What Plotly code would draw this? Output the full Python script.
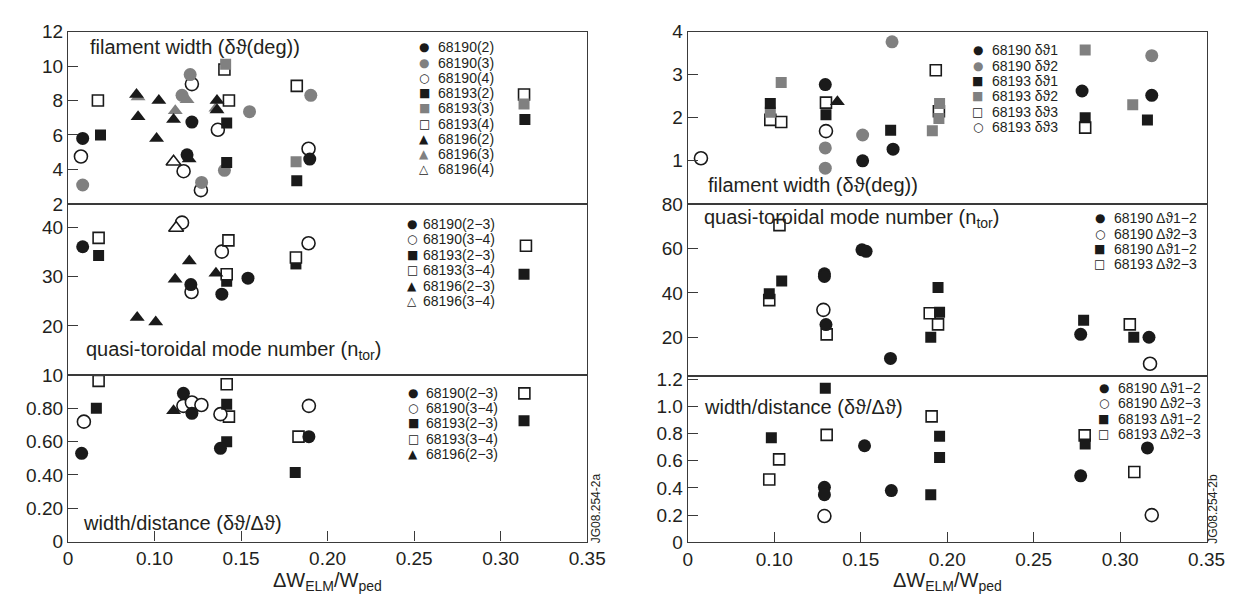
import plotly.graph_objects as go

W, H = 1247, 600

# ---------------- data ----------------
x_tickvals = [0.05, 0.10, 0.15, 0.20, 0.25, 0.30, 0.35]
x_ticktext = ["0", "0.10", "0.15", "0.20", "0.25", "0.30", "0.35"]

# Left top: filament width (deg)
L1_68190_2_x = [0.0585, 0.1188, 0.1216, 0.1897]
L1_68190_2_y = [5.8, 4.85, 6.75, 4.6]
L1_68190_3_x = [0.0585, 0.1159, 0.1206, 0.1272, 0.1404, 0.1549, 0.1903]
L1_68190_3_y = [3.1, 8.3, 9.5, 3.25, 3.95, 7.35, 8.3]
L1_68190_4_x = [0.0575, 0.1216, 0.1168, 0.1268, 0.1366, 0.1890]
L1_68190_4_y = [4.75, 8.95, 3.9, 2.8, 6.3, 5.2]
L1_68193_2_x = [0.0688, 0.1417, 0.1417, 0.1822, 0.3140]
L1_68193_2_y = [6.0, 6.7, 4.4, 3.35, 6.9]
L1_68193_3_x = [0.1411, 0.1818, 0.3135]
L1_68193_3_y = [10.1, 4.45, 7.8]
L1_68193_4_x = [0.0673, 0.1404, 0.1430, 0.1822, 0.3135]
L1_68193_4_y = [8.0, 9.8, 8.0, 8.85, 8.35]
L1_68196_2_x = [0.0896, 0.0905, 0.1025, 0.1012, 0.1110, 0.1200, 0.1361, 0.1361]
L1_68196_2_y = [8.35, 7.05, 8.0, 5.8, 6.9, 4.6, 8.0, 7.45]
L1_68196_3_x = [0.0905, 0.1120, 0.1188, 0.1355]
L1_68196_3_y = [8.2, 7.4, 8.05, 7.55]
L1_68196_4_x = [0.1110]
L1_68196_4_y = [4.45]

# Left middle: quasi-toroidal mode number
L2_68190_23_x = [0.0585, 0.1210, 0.1389, 0.1540]
L2_68190_23_y = [36.1, 28.4, 26.45, 29.7]
L2_68190_34_x = [0.1159, 0.1214, 0.1389, 0.1890]
L2_68190_34_y = [41.0, 26.9, 35.1, 36.8]
L2_68193_23_x = [0.0677, 0.1417, 0.1817, 0.3135]
L2_68193_23_y = [34.3, 29.1, 32.6, 30.5]
L2_68193_34_x = [0.0677, 0.1427, 0.1417, 0.1817, 0.3146]
L2_68193_34_y = [37.9, 37.4, 30.5, 33.9, 36.3]
L2_68196_23_x = [0.0900, 0.1007, 0.1119, 0.1201, 0.1355]
L2_68196_23_y = [21.7, 20.8, 29.5, 33.2, 30.7]
L2_68196_34_x = [0.1125]
L2_68196_34_y = [39.9]

# Left bottom: width/distance
L3_68190_23_x = [0.0579, 0.1167, 0.1216, 0.1381, 0.1892]
L3_68190_23_y = [0.53, 0.89, 0.77, 0.56, 0.63]
L3_68190_34_x = [0.0592, 0.1167, 0.1216, 0.1271, 0.1381, 0.1892]
L3_68190_34_y = [0.72, 0.815, 0.835, 0.82, 0.765, 0.815]
L3_68193_23_x = [0.0664, 0.1417, 0.1417, 0.1813, 0.3135]
L3_68193_23_y = [0.80, 0.825, 0.60, 0.415, 0.725]
L3_68193_34_x = [0.0677, 0.1417, 0.1430, 0.1832, 0.3137]
L3_68193_34_y = [0.965, 0.945, 0.75, 0.63, 0.89]
L3_68196_23_x = [0.1110]
L3_68196_23_y = [0.785]

# Right top: filament width (deg)
R1_68190_d1_x = [0.1295, 0.1511, 0.1687, 0.2780, 0.3183]
R1_68190_d1_y = [2.77, 1.0, 1.27, 2.62, 2.52]
R1_68190_d2_x = [0.1295, 0.1295, 0.1511, 0.1681, 0.3183]
R1_68190_d2_y = [1.3, 0.83, 1.6, 3.76, 3.44]
R1_68193_d1_x = [0.0977, 0.1299, 0.1673, 0.2798, 0.3158]
R1_68193_d1_y = [2.33, 2.07, 1.71, 2.0, 1.95]
R1_68193_d2_x = [0.0977, 0.1040, 0.1914, 0.1956, 0.1952, 0.2798, 0.3073]
R1_68193_d2_y = [2.13, 2.82, 1.70, 2.33, 1.98, 3.57, 2.30]
R1_68193_d3s_x = [0.0977, 0.1040, 0.1299, 0.1934, 0.1952, 0.2798]
R1_68193_d3s_y = [1.95, 1.9, 2.35, 3.1, 2.15, 1.77]
R1_68193_d3c_x = [0.0576, 0.1299]
R1_68193_d3c_y = [1.06, 1.69]
R1_extra_x = [0.1365]
R1_extra_y = [2.37]

# Right middle: quasi-toroidal mode number
R2_68190_12_x = [0.1290, 0.1290, 0.1299, 0.1507, 0.1531, 0.1672, 0.2772, 0.3167]
R2_68190_12_y = [48.6, 47.4, 25.8, 59.4, 58.7, 10.6, 21.4, 20.1]
R2_68190_23_x = [0.1284, 0.3173]
R2_68190_23_y = [32.4, 8.2]
R2_68193_12_x = [0.0971, 0.1043, 0.1947, 0.1956, 0.1905, 0.2789, 0.3079]
R2_68193_12_y = [39.6, 45.4, 42.4, 31.3, 20.1, 27.7, 20.1]
R2_68193_23_x = [0.1030, 0.0971, 0.1303, 0.1899, 0.1947, 0.3056]
R2_68193_23_y = [70.5, 36.8, 21.4, 30.9, 25.9, 25.9]

# Right bottom: width/distance
R3_68190_12_x = [0.1522, 0.1290, 0.1290, 0.1677, 0.2772, 0.3158]
R3_68190_12_y = [0.71, 0.404, 0.35, 0.38, 0.489, 0.694]
R3_68190_23_x = [0.1290, 0.3183]
R3_68190_23_y = [0.193, 0.20]
R3_68193_12_x = [0.0983, 0.1295, 0.1956, 0.1956, 0.1905, 0.2798]
R3_68193_12_y = [0.768, 1.132, 0.78, 0.624, 0.35, 0.722]
R3_68193_23_x = [0.0971, 0.1028, 0.1303, 0.1910, 0.2795, 0.3082]
R3_68193_23_y = [0.462, 0.61, 0.79, 0.926, 0.786, 0.517]

# ---------------- style ----------------
BLACK = "#1a1a1a"
GREY = "#808080"
LINE = "#3a3a3a"
TXT = "#231f20"
FONT = "Liberation Sans, Arial, Helvetica, sans-serif"

def px(v):
    return v / W

def py(v):
    return 1 - v / H

def mk(kind, symbol, size):
    if kind == "black":
        return dict(symbol=symbol, size=size, color=BLACK, line=dict(width=0))
    if kind == "grey":
        return dict(symbol=symbol, size=size, color=GREY, line=dict(width=0))
    return dict(symbol=symbol, size=size, color="white", line=dict(width=1.6, color=BLACK))

fig = go.Figure()

def add(xs, ys, ax, kind, symbol, size):
    fig.add_trace(go.Scatter(x=xs, y=ys, mode="markers", xaxis="x" + ax, yaxis="y" + ax,
                             marker=mk(kind, symbol, size), showlegend=False, hoverinfo="x+y"))

CS, SS, TS = 13, 11, 13
# left top (axis 3)
add(L1_68190_4_x, L1_68190_4_y, "3", "open", "circle", CS)
add(L1_68190_3_x, L1_68190_3_y, "3", "grey", "circle", CS)
add(L1_68190_2_x, L1_68190_2_y, "3", "black", "circle", CS)
add(L1_68193_2_x, L1_68193_2_y, "3", "black", "square", SS)
add(L1_68193_4_x, L1_68193_4_y, "3", "open", "square", SS)
add(L1_68193_3_x, L1_68193_3_y, "3", "grey", "square", SS)
add(L1_68196_4_x, L1_68196_4_y, "3", "open", "triangle-up", TS)
add(L1_68196_3_x, L1_68196_3_y, "3", "grey", "triangle-up", TS)
add(L1_68196_2_x, L1_68196_2_y, "3", "black", "triangle-up", TS)
# left middle (axis 2)
add(L2_68190_34_x, L2_68190_34_y, "2", "open", "circle", CS)
add(L2_68190_23_x, L2_68190_23_y, "2", "black", "circle", CS)
add(L2_68193_23_x, L2_68193_23_y, "2", "black", "square", SS)
add(L2_68193_34_x, L2_68193_34_y, "2", "open", "square", SS)
add(L2_68196_34_x, L2_68196_34_y, "2", "open", "triangle-up", TS)
add(L2_68196_23_x, L2_68196_23_y, "2", "black", "triangle-up", TS)
# left bottom (axis 1)
add(L3_68193_34_x, L3_68193_34_y, "", "open", "square", SS)
add(L3_68190_34_x, L3_68190_34_y, "", "open", "circle", CS)
add(L3_68193_23_x, L3_68193_23_y, "", "black", "square", SS)
add(L3_68190_23_x, L3_68190_23_y, "", "black", "circle", CS)
add(L3_68196_23_x, L3_68196_23_y, "", "black", "triangle-up", TS)
# right top (axis 6)
add(R1_68190_d2_x, R1_68190_d2_y, "6", "grey", "circle", CS)
add(R1_68190_d1_x, R1_68190_d1_y, "6", "black", "circle", CS)
add(R1_68193_d3c_x, R1_68193_d3c_y, "6", "open", "circle", CS)
add(R1_68193_d3s_x, R1_68193_d3s_y, "6", "open", "square", SS)
add(R1_68193_d2_x, R1_68193_d2_y, "6", "grey", "square", SS)
add(R1_68193_d1_x, R1_68193_d1_y, "6", "black", "square", SS)
add(R1_extra_x, R1_extra_y, "6", "black", "triangle-up", TS)
# right middle (axis 5)
add(R2_68193_23_x, R2_68193_23_y, "5", "open", "square", SS)
add(R2_68193_12_x, R2_68193_12_y, "5", "black", "square", SS)
add(R2_68190_23_x, R2_68190_23_y, "5", "open", "circle", CS)
add(R2_68190_12_x, R2_68190_12_y, "5", "black", "circle", CS)
# right bottom (axis 4)
add(R3_68193_23_x, R3_68193_23_y, "4", "open", "square", SS)
add(R3_68193_12_x, R3_68193_12_y, "4", "black", "square", SS)
add(R3_68190_23_x, R3_68190_23_y, "4", "open", "circle", CS)
add(R3_68190_12_x, R3_68190_12_y, "4", "black", "circle", CS)

# ---------------- axes ----------------
LX = [px(56), px(585)]
RX = [px(687.5), px(1216)]
tickfont = dict(family=FONT, size=19, color=TXT)

def xaxis(domain, anchor, show):
    return dict(domain=domain, range=[0.05, 0.35], anchor=anchor, showline=True, mirror=True,
                linecolor=LINE, linewidth=1.3, showgrid=False, zeroline=False,
                ticks="inside" if show else "", ticklen=10, tickwidth=1.2, tickcolor=LINE,
                tickvals=x_tickvals, ticktext=x_ticktext, showticklabels=show, tickfont=tickfont)

def yaxis(domain, anchor, rng, vals, text):
    return dict(domain=domain, range=rng, anchor=anchor, showline=True, mirror=True,
                linecolor=LINE, linewidth=1.3, showgrid=False, zeroline=False,
                ticks="inside", ticklen=10, tickwidth=1.2, tickcolor=LINE,
                tickvals=vals, ticktext=text, tickfont=tickfont)

L_top = [py(192.7), py(14)]
L_mid = [py(370), py(192.7)]
L_bot = [py(542.5), py(370)]
R_top = [py(192.7), py(14)]
R_mid = [py(370.7), py(192.7)]
R_bot = [py(543.3), py(370.7)]

layout = dict(
    width=W, height=H, margin=dict(l=0, r=0, t=0, b=0),
    paper_bgcolor="white", plot_bgcolor="white", showlegend=False,
    font=dict(family=FONT, color=TXT),
    xaxis=xaxis(LX, "y", True),
    yaxis=yaxis(L_bot, "x", [0, 1.0], [0, 0.2, 0.4, 0.6, 0.8], ["0", "0.20", "0.40", "0.60", "0.80"]),
    xaxis2=xaxis(LX, "y2", False),
    yaxis2=yaxis(L_mid, "x2", [10, 44.8], [10, 20, 30, 40], ["10", "20", "30", "40"]),
    xaxis3=xaxis(LX, "y3", False),
    yaxis3=yaxis(L_top, "x3", [2, 12], [2, 4, 6, 8, 10, 12], ["2", "4", "6", "8", "10", "12"]),
    xaxis4=xaxis(RX, "y4", True),
    yaxis4=yaxis(R_bot, "x4", [0, 1.225], [0, 0.2, 0.4, 0.6, 0.8, 1.0, 1.2],
                 ["0", "0.2", "0.4", "0.6", "0.8", "1.0", "1.2"]),
    xaxis5=xaxis(RX, "y5", False),
    yaxis5=yaxis(R_mid, "x5", [2.8, 80], [20, 40, 60, 80], ["20", "40", "60", "80"]),
    xaxis6=xaxis(RX, "y6", False),
    yaxis6=yaxis(R_top, "x6", [0, 4], [1, 2, 3, 4], ["1", "2", "3", "4"]),
)

ann = []

def text(x, y, t, size, anchor="left", angle=0):
    ann.append(dict(x=px(x), y=py(y), xref="paper", yref="paper", text=t, showarrow=False,
                    xanchor=anchor, yanchor="middle", textangle=angle,
                    font=dict(family=FONT, size=size, color=TXT)))

# panel titles
text(76, 30, "filament width (δϑ(deg))", 20)
text(72, 345, "quasi-toroidal mode number (n<sub>tor</sub>)", 20)
text(69, 523, "width/distance (δϑ/Δϑ)", 20)
text(706, 173, "filament width (δϑ(deg))", 20)
text(702, 208, "quasi-toroidal mode number (n<sub>tor</sub>)", 20)
text(702, 403, "width/distance (δϑ/Δϑ)", 20)

# x axis titles
text(320, 584, "ΔW<sub>ELM</sub>/W<sub>ped</sub>", 20, "center")
text(952, 584, "ΔW<sub>ELM</sub>/W<sub>ped</sub>", 20, "center")

# plate ids
text(594, 508, "JG08.254-2a", 12, "center", -90)
text(1223, 508, "JG08.254-2b", 12, "center", -90)

# legends (glyph + label)
GLY = {"fc": ("●", BLACK), "gc": ("●", GREY), "oc": ("○", BLACK),
       "fs": ("■", BLACK), "gs": ("■", GREY), "os": ("□", BLACK),
       "ft": ("▲", BLACK), "gt": ("▲", GREY), "ot": ("△", BLACK)}

def legend(items, mx, tx, y0, dy, size):
    for i, (k, lab) in enumerate(items):
        g, c = GLY[k]
        y = y0 + i * dy
        ann.append(dict(x=px(mx), y=py(y), xref="paper", yref="paper", text=g, showarrow=False,
                        xanchor="center", yanchor="middle",
                        font=dict(family="DejaVu Sans", size=12, color=c)))
        text(tx, y, lab, size)

legend([("fc", "68190(2)"), ("gc", "68190(3)"), ("oc", "68190(4)"), ("fs", "68193(2)"),
        ("gs", "68193(3)"), ("os", "68193(4)"), ("ft", "68196(2)"), ("gt", "68196(3)"),
        ("ot", "68196(4)")], 419, 431, 30.5, 15.8, 14)
legend([("fc", "68190(2−3)"), ("oc", "68190(3−4)"), ("fs", "68193(2−3)"), ("os", "68193(3−4)"),
        ("ft", "68196(2−3)"), ("ot", "68196(3−4)")], 407, 416, 213.3, 16, 14)
legend([("fc", "68190(2−3)"), ("oc", "68190(3−4)"), ("fs", "68193(2−3)"), ("os", "68193(3−4)"),
        ("ft", "68196(2−3)")], 408, 419, 388.3, 15.9, 14)
legend([("fc", "68190 δϑ1"), ("gc", "68190 δϑ2"), ("fs", "68193 δϑ1"), ("gs", "68193 δϑ2"),
        ("os", "68193 δϑ3"), ("oc", "68193 δϑ3")], 983, 995, 33.3, 16, 14)
legend([("fc", "68190 Δϑ1−2"), ("oc", "68190 Δϑ2−3"), ("fs", "68190 Δϑ1−2"), ("os", "68193 Δϑ2−3")],
       1107, 1120, 207.7, 15.8, 14)
legend([("fc", "68190 Δϑ1−2"), ("oc", "68190 Δϑ2−3"), ("fs", "68193 Δϑ1−2"), ("os", "68193 Δϑ2−3")],
       1111, 1124, 383.3, 16.1, 14)

layout["annotations"] = ann
fig.update_layout(**layout)
fig.write_html("out.html")
